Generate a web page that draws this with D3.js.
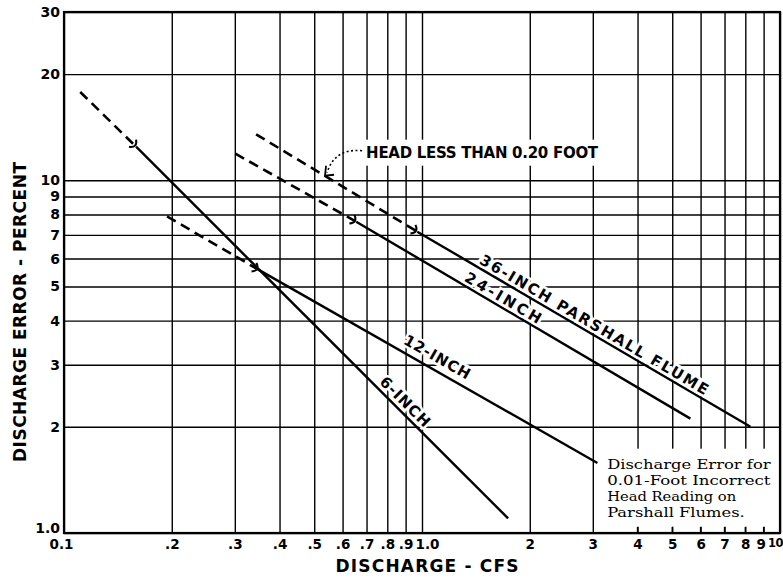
<!DOCTYPE html>
<html><head><meta charset="utf-8">
<script src="https://cdn.jsdelivr.net/npm/d3@7"></script>
<style>body{margin:0;background:#fff} svg{display:block}</style>
</head><body><svg id="c" width="783" height="582"></svg>
<script>
// ---- data ----
const flumeNames   = ["6-INCH", "12-INCH", "24-INCH", "36-INCH PARSHALL FLUME"];
const dashStartQ   = [0.111, 0.194, 0.301, 0.344];   // cfs, start of dashed part
const dashStartErr = [17.8, 7.9, 11.9, 13.5];        // percent
const headPointQ   = [0.159, 0.349, 0.655, 0.970];   // head = 0.20 ft
const headPointErr = [12.45, 5.58, 7.63, 7.15];
const endQ         = [1.74, 3.09, 5.62, 8.27];
const endErr       = [1.10, 1.58, 2.11, 2.00];
const labelQ       = [0.898, 1.103, 1.686, 3.03];
const labelErr     = [2.36, 3.16, 4.65, 3.90];

const xTickValues = [0.1,0.2,0.3,0.4,0.5,0.6,0.7,0.8,0.9,1,2,3,4,5,6,7,8,9,10];
const xTickLabels = ["0.1",".2",".3",".4",".5",".6",".7",".8",".9","1.0","2","3","4","5","6","7","8","9","10"];
const yTickValues = [1,2,3,4,5,6,7,8,9,10,20,30];
const yTickLabels = ["1.0","2","3","4","5","6","7","8","9","10","20","30"];

const headNote = "HEAD LESS THAN 0.20 FOOT";
const noteTextAt = [0.698, 11.59];
const noteTipAt  = [0.536, 10.3];
const boxLines = ["Discharge Error for", "0.01-Foot Incorrect", "Head Reading on", "Parshall Flumes."];
const boxTextAt = [3.29, 1.52];
const boxRange = {q0: 3.07, q1: 9.83, e0: 1.042, e1: 1.734};

// ---- chart ----
const svg = d3.select("#c");
const L = 64, R = 780, T = 12, B = 533;
const x = d3.scaleLog().domain([0.1, 10]).range([L, R]);
const y = d3.scaleLog().domain([1, 30]).range([B, T]);
const SANS = "'DejaVu Sans', sans-serif";

const gx = svg.append("g").attr("transform", `translate(0,${B})`)
  .call(d3.axisBottom(x).tickValues(xTickValues).tickFormat((d,i)=>xTickLabels[i])
        .tickSize(-(B-T)).tickPadding(6));
gx.select(".domain").remove();
gx.selectAll(".tick line").attr("stroke","#000").attr("stroke-width",1.4);
gx.selectAll(".tick text").attr("fill","#000").style("font-family",SANS)
  .style("font-weight","bold").style("font-size","13.5px")
  .attr("dx",(d,i)=> xTickLabels[i]==="1.0" ? 5 : (xTickLabels[i]==="0.1" ? -3 : (xTickLabels[i]==="9" ? -3 : 0)));
gx.selectAll(".tick text").filter((d,i)=>xTickLabels[i]==="10")
  .attr("text-anchor","end").attr("dx",2.5).style("font-size","11.5px").style("letter-spacing","-0.5px");

const gy = svg.append("g").attr("transform", `translate(${L},0)`)
  .call(d3.axisLeft(y).tickValues(yTickValues).tickFormat((d,i)=>yTickLabels[i])
        .tickSize(-(R-L)).tickPadding(4));
gy.select(".domain").remove();
gy.selectAll(".tick line").attr("stroke","#000").attr("stroke-width",1.4);
gy.selectAll(".tick text").attr("fill","#000").style("font-family",SANS)
  .style("font-weight","bold").style("font-size","14px")
  .attr("dy",(d,i)=> yTickLabels[i]==="1.0" ? "-0.05em" : "0.32em");

// white box for the note
svg.append("rect")
  .attr("x", x(boxRange.q0)).attr("y", y(boxRange.e1))
  .attr("width", x(boxRange.q1)-x(boxRange.q0)).attr("height", y(boxRange.e0)-y(boxRange.e1))
  .attr("fill","#fff");
// small bottom ticks under the box
svg.append("g").selectAll("line").data(xTickValues.filter(v=>v>3 && v<10)).join("line")
  .attr("x1",d=>x(d)).attr("x2",d=>x(d)).attr("y1",B).attr("y2",B-6)
  .attr("stroke","#000").attr("stroke-width",1.4);

const bt = svg.append("text").attr("x", x(boxTextAt[0])).attr("y", y(boxTextAt[1]))
  .style("font-family","'DejaVu Serif', serif").style("font-size","13px").attr("fill","#000");
boxLines.forEach((s,i)=> bt.append("tspan").attr("x", x(boxTextAt[0])).attr("dy", i===0?0:16)
  .attr("textLength", s.length*8.6).attr("lengthAdjust","spacingAndGlyphs").text(s));

// frame
svg.append("rect").attr("x",L).attr("y",T).attr("width",R-L).attr("height",B-T)
  .attr("fill","none").attr("stroke","#000").attr("stroke-width",2.2);

// annotation text with white background
const ng = svg.append("g");
const nbg = ng.append("rect").attr("fill","#fff");
const nt = ng.append("text").attr("x", x(noteTextAt[0])).attr("y", y(noteTextAt[1]))
  .style("font-family",SANS).style("font-size","15px").style("font-weight","bold")
  .attr("textLength",232).attr("lengthAdjust","spacing").attr("fill","#000").text(headNote);
const nb = nt.node().getBBox();
nbg.attr("x", nb.x-3).attr("y", nb.y-4).attr("width", nb.width+6).attr("height", nb.height+8);

// data lines
const line = d3.line().x(d=>x(d[0])).y(d=>y(d[1]));
flumeNames.forEach((name,i)=>{
  svg.append("path").attr("d", line([[dashStartQ[i],dashStartErr[i]],[headPointQ[i],headPointErr[i]]]))
    .attr("fill","none").attr("stroke","#000").attr("stroke-width",2.6).attr("stroke-dasharray","10,6");
  svg.append("path").attr("d", line([[headPointQ[i],headPointErr[i]],[endQ[i],endErr[i]]]))
    .attr("fill","none").attr("stroke","#000").attr("stroke-width",2.4);
  // junction mark
  const px = x(headPointQ[i]), py = y(headPointErr[i]);
  const ex = x(endQ[i]), ey = y(endErr[i]);
  const len = Math.hypot(ex-px, ey-py);
  const dx = (ex-px)/len, dy = (ey-py)/len, nx = -dy, ny = dx;
  const a = [px+nx*5-dx*5, py+ny*5-dy*5], b = [px-nx*5-dx*5, py-ny*5-dy*5];
  svg.append("path").attr("d", `M${a[0]},${a[1]} Q${px+dx*2},${py+dy*2} ${b[0]},${b[1]}`)
    .attr("fill","none").attr("stroke","#000").attr("stroke-width",2);
});

// line labels
const labelLen = [64, 74, 86, 262];
flumeNames.forEach((name,i)=>{
  const ang = Math.atan2(y(endErr[i])-y(headPointErr[i]), x(endQ[i])-x(headPointQ[i]))*180/Math.PI;
  const cx = x(labelQ[i]), cy = y(labelErr[i]);
  svg.append("text").attr("transform", `translate(${cx},${cy}) rotate(${ang})`)
    .attr("text-anchor","middle").attr("dy","0.36em")
    .style("font-family",SANS).style("font-size","15px").style("font-weight","bold")
    .attr("textLength", labelLen[i]).attr("lengthAdjust","spacing")
    .attr("fill","#000").attr("stroke","#fff").attr("stroke-width",5).attr("paint-order","stroke")
    .text(name);
});

// dotted arrow
const s = [x(noteTextAt[0])-4, y(noteTextAt[1])-7];
const t = [x(noteTipAt[0]), y(noteTipAt[1])];
svg.append("path").attr("d", `M${s[0]},${s[1]} C${s[0]-22},${s[1]-2} ${t[0]+6},${t[1]-16} ${t[0]+2},${t[1]-3}`)
  .attr("fill","none").attr("stroke","#000").attr("stroke-width",1.6).attr("stroke-dasharray","2,2.5");
svg.append("path").attr("d", `M${t[0]+1},${t[1]-10} L${t[0]},${t[1]} L${t[0]+9},${t[1]-1}`)
  .attr("fill","none").attr("stroke","#000").attr("stroke-width",1.8);

// axis titles
svg.append("text").attr("x", 427).attr("y", 572).attr("text-anchor","middle")
  .style("font-family",SANS).style("font-size","17px").style("font-weight","bold")
  .attr("textLength",183).attr("lengthAdjust","spacing").attr("fill","#000").text("DISCHARGE - CFS");
svg.append("text").attr("transform","translate(26,312) rotate(-90)").attr("text-anchor","middle")
  .style("font-family",SANS).style("font-size","17px").style("font-weight","bold")
  .attr("textLength",300).attr("lengthAdjust","spacing").attr("fill","#000").text("DISCHARGE ERROR - PERCENT");
</script></body></html>
